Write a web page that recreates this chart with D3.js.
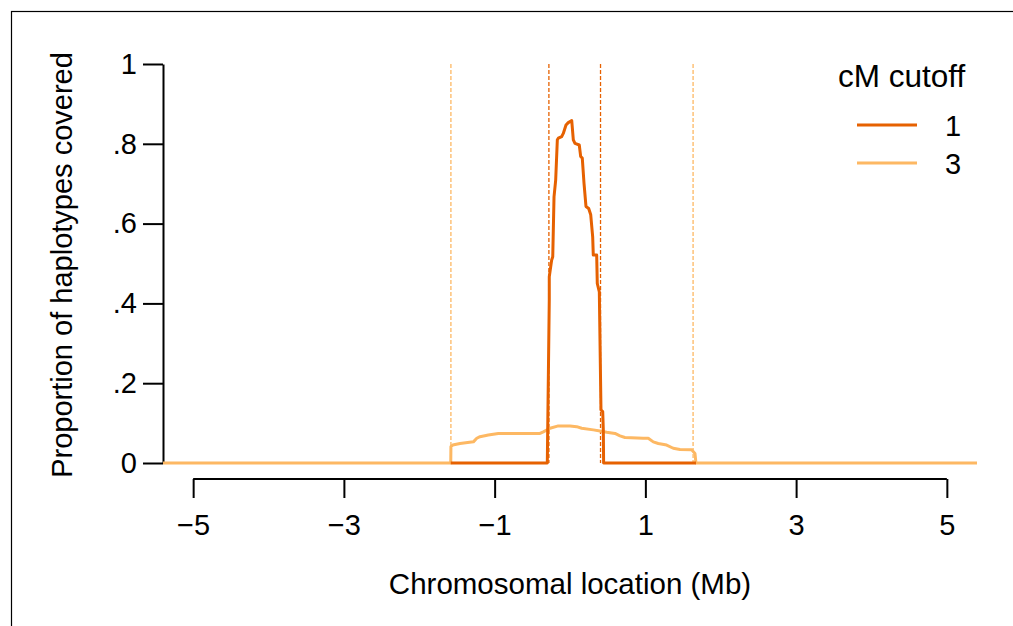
<!DOCTYPE html>
<html>
<head>
<meta charset="utf-8">
<script src="https://cdn.jsdelivr.net/npm/d3@7"></script>
<style>
  body { margin: 0; background: #fff; }
  svg { display: block; font-family: "Liberation Sans", Arial, Helvetica, sans-serif; }
</style>
</head>
<body>
<svg id="chart" width="1013" height="626"></svg>
<script>
// cM cutoff = 3 (light)
const lightX = [-5.4, -1.582, -1.580, -1.556, -1.459, -1.282, -1.237, -1.194, -1.084, -0.951, -0.398, -0.354, -0.265, -0.155, 0, 0.089, 0.155, 0.309, 0.398, 0.487, 0.597, 0.663, 0.729, 0.972, 1.038, 1.105, 1.171, 1.282, 1.370, 1.459, 1.614, 1.658, 1.671, 5.4];
const lightY = [0, 0, 0.041, 0.045, 0.049, 0.053, 0.062, 0.066, 0.070, 0.074, 0.074, 0.078, 0.087, 0.093, 0.093, 0.091, 0.087, 0.083, 0.080, 0.077, 0.074, 0.068, 0.064, 0.062, 0.062, 0.053, 0.049, 0.045, 0.037, 0.034, 0.033, 0.024, 0, 0];

// cM cutoff = 1 (dark)
const darkX = [-1.582, -0.301, -0.275, -0.275, -0.243, -0.229, -0.212, -0.190, -0.168, -0.155, -0.110, -0.089, -0.053, -0.023, 0.023, 0.044, 0.066, 0.123, 0.142, 0.163, 0.186, 0.212, 0.248, 0.275, 0.301, 0.309, 0.354, 0.362, 0.389, 0.411, 0.434, 0.442, 0.446, 1.671];
const darkY = [0, 0, 0.41, 0.467, 0.509, 0.517, 0.667, 0.709, 0.81, 0.814, 0.818, 0.826, 0.847, 0.853, 0.858, 0.81, 0.801, 0.797, 0.768, 0.764, 0.701, 0.643, 0.638, 0.622, 0.567, 0.521, 0.521, 0.45, 0.429, 0.133, 0.129, 0.083, 0, 0];

// window edges (dashed verticals)
const darkBounds = [-0.28, 0.405];
const lightBounds = [-1.58, 1.633];

const xTicks = [-5, -3, -1, 1, 3, 5];
const yTicks = [0, 0.2, 0.4, 0.6, 0.8, 1];
const legendLabels = ["1", "3"];
const colors = ["#e66101", "#fdb863"];

const svg = d3.select("#chart");
const x = d3.scaleLinear().domain([-5.4, 5.4]).range([163, 977]);
const y = d3.scaleLinear().domain([0, 1]).range([463, 64]);

// frame (only left/top edge shows in the crop)
svg.append("rect")
  .attr("x", 11.5).attr("y", 11.5)
  .attr("width", 1100).attr("height", 700)
  .attr("fill", "none").attr("stroke", "#000").attr("stroke-width", 1.2);

// y axis
const yAxis = svg.append("g")
  .attr("transform", "translate(163,0)")
  .call(d3.axisLeft(y).tickValues(yTicks).tickSize(20).tickSizeOuter(0).tickPadding(6)
    .tickFormat((d) => (d === 0 || d === 1 ? String(d) : d3.format(".1f")(d).replace(/^0/, ""))));
yAxis.select(".domain").attr("stroke-width", 2);
yAxis.selectAll(".tick line").attr("stroke-width", 2);
yAxis.selectAll(".tick text").style("font-size", "29px").attr("fill", "#000");

// x axis, domain line only between outer ticks
const xAxis = svg.append("g")
  .attr("transform", "translate(0,479)")
  .call(d3.axisBottom(x).tickValues(xTicks).tickSize(19).tickSizeOuter(0).tickPadding(16));
xAxis.select(".domain").remove();
xAxis.append("line")
  .attr("x1", x(xTicks[0])).attr("x2", x(xTicks[xTicks.length - 1]))
  .attr("stroke", "#000").attr("stroke-width", 2);
xAxis.selectAll(".tick line").attr("stroke-width", 2);
xAxis.selectAll(".tick text").style("font-size", "29px").attr("fill", "#000");
svg.selectAll("g").attr("font-family", null);

// axis titles
svg.append("text")
  .attr("x", 570).attr("y", 594)
  .attr("text-anchor", "middle")
  .style("font-size", "29.5px")
  .text("Chromosomal location (Mb)");
svg.append("text")
  .attr("transform", "translate(72,265) rotate(-90)")
  .attr("text-anchor", "middle")
  .style("font-size", "29px")
  .text("Proportion of haplotypes covered");

// dashed cutoff lines
const dashes = [
  { b: lightBounds, c: colors[1] },
  { b: darkBounds, c: colors[0] },
];
dashes.forEach((g) => {
  svg.selectAll(null)
    .data(g.b)
    .enter()
    .append("line")
    .attr("x1", (d) => x(d)).attr("x2", (d) => x(d))
    .attr("y1", y(1)).attr("y2", y(0))
    .attr("stroke", g.c)
    .attr("stroke-width", 1.3)
    .attr("stroke-dasharray", "4,2");
});

// series
const line = d3.line().x((d) => x(d[0])).y((d) => y(d[1]));
const series = [
  { xs: lightX, ys: lightY, c: colors[1] },
  { xs: darkX, ys: darkY, c: colors[0] },
];
series.forEach((s) => {
  svg.append("path")
    .datum(s.xs.map((v, i) => [v, s.ys[i]]))
    .attr("d", line)
    .attr("fill", "none")
    .attr("stroke", s.c)
    .attr("stroke-width", 3)
    .attr("stroke-linejoin", "round");
});

// legend
const legend = svg.append("g");
legend.append("text")
  .attr("x", 838).attr("y", 87)
  .style("font-size", "31.5px")
  .text("cM cutoff");
legendLabels.forEach((lab, i) => {
  const ly = 125 + i * 38;
  legend.append("line")
    .attr("x1", 857).attr("x2", 917)
    .attr("y1", ly).attr("y2", ly)
    .attr("stroke", colors[i]).attr("stroke-width", 3);
  legend.append("text")
    .attr("x", 953).attr("y", ly + 11)
    .attr("text-anchor", "middle")
    .style("font-size", "29px")
    .text(lab);
});
</script>
</body>
</html>
